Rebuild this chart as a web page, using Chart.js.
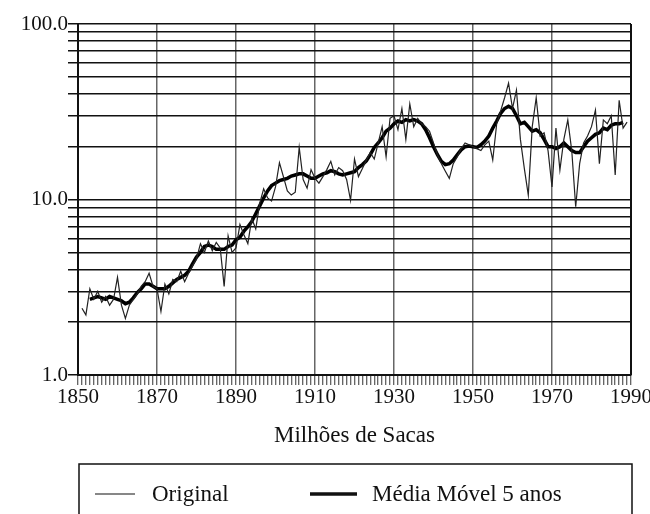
<!DOCTYPE html>
<html>
<head>
<meta charset="utf-8">
<script src="https://cdn.jsdelivr.net/npm/chart.js@4.4.1/dist/chart.umd.min.js"></script>
<style>
  html, body { margin: 0; padding: 0; background: #fff; }
  #wrap { width: 650px; height: 514px; position: relative; }
</style>
</head>
<body>
<div id="wrap"><canvas id="chart"></canvas></div>
<script>
// original series, one value per year starting 1851
const originalStart = 1851;
const original = [
  2.4, 2.2, 3.1, 2.7, 3.0, 2.6, 2.8, 2.5, 2.7,
  3.6, 2.5, 2.1, 2.5, 2.7, 2.9, 3.2, 3.4, 3.8, 3.2,
  3.1, 2.3, 3.3, 2.9, 3.5, 3.4, 3.9, 3.4, 3.8, 4.2,
  4.6, 5.6, 5.0, 5.8, 5.1, 5.7, 5.3, 3.2, 6.2, 5.0,
  5.3, 7.2, 6.3, 5.6, 7.8, 6.8, 9.5, 11.5, 10.2, 9.8,
  11.8, 16.2, 13.5, 11.2, 10.6, 11.0, 19.8, 13.0, 11.6, 14.8,
  13.2, 12.4, 13.5, 14.8, 16.5, 13.8, 15.2, 14.6, 13.0, 9.9,
  17.0, 13.5, 15.0, 16.8, 18.5, 17.0, 21.0, 26.0, 17.5, 29.0,
  30.0, 25.0, 33.0, 22.0, 35.0, 26.0, 29.0, 27.0, 26.0, 24.5,
  21.0, 18.0, 16.0, 14.5, 13.2, 16.0, 17.5, 19.5, 21.0, 20.5,
  20.0, 19.5, 19.0, 20.5, 21.5, 16.8, 27.0, 32.0, 38.0, 46.0,
  33.0, 42.0, 22.0, 15.0, 10.6, 26.0, 38.0, 23.0, 24.0, 19.0,
  11.8, 25.5, 14.7, 22.0, 28.4, 19.0, 9.1, 16.0, 21.0, 23.0,
  26.0, 32.3, 16.0, 28.4, 27.0, 30.0, 13.8, 36.7, 25.5, 27.6
];

// 5-year moving average, starting 1853
const movingStart = 1853;
const moving = [
  2.7, 2.75, 2.8, 2.75, 2.7, 2.8, 2.75,
  2.7, 2.65, 2.55, 2.6, 2.75, 2.95, 3.1, 3.3, 3.3, 3.2,
  3.1, 3.1, 3.1, 3.2, 3.35, 3.5, 3.6, 3.7, 3.9, 4.3,
  4.7, 5.0, 5.4, 5.5, 5.4, 5.2, 5.2, 5.2, 5.4, 5.5,
  5.9, 6.1, 6.6, 7.0, 7.5, 8.3, 9.2, 10.2, 11.2, 12.0,
  12.4, 12.8, 13.0, 13.2, 13.6, 13.8, 14.0, 14.0, 13.6, 13.2,
  13.2, 13.6, 14.0, 14.2, 14.6, 14.4, 14.0, 13.8, 14.0, 14.2,
  14.4, 15.2, 15.8, 16.6, 18.0, 19.8, 21.0, 22.5, 24.5, 25.5,
  27.0, 28.0, 27.5, 28.5, 28.0, 28.5, 28.0, 27.0, 25.0, 22.5,
  20.0, 18.0, 16.5, 15.8, 16.0, 16.8, 18.0, 19.2, 20.0, 20.2,
  20.0, 19.8, 20.5, 21.5, 23.0, 25.5, 28.0, 31.0, 33.0, 34.0,
  33.0, 30.0, 27.0, 27.5, 26.0, 24.5, 25.0, 24.0, 22.0, 20.0,
  20.0, 19.5, 20.0, 21.0, 20.0, 19.0, 18.5, 18.5, 20.0, 21.5,
  22.5, 23.5, 24.0, 25.5, 25.0, 26.5, 27.0, 27.0, 27.5
];

const seriesLabels = ['Original', 'Média Móvel 5 anos'];
const yTicks = [1, 2, 3, 4, 5, 6, 7, 8, 9, 10, 20, 30, 40, 50, 60, 70, 80, 90, 100];
const yLabeled = [1, 10, 100];
const xFirst = 1850;
const xLast = 1990;
const xLabelStep = 20;
const axisTitle = 'Milhões de Sacas';

const FONT = "'Liberation Serif', 'DejaVu Serif', serif";

function toPoints(start, arr) {
  return arr.map((v, i) => ({ x: start + i, y: v }));
}

const isMajorYear = v => (v - xFirst) % xLabelStep === 0;

// frame on the right + legend box under the chart
const framePlugin = {
  id: 'frame',
  afterDraw(chart) {
    const { ctx, chartArea } = chart;
    ctx.save();
    ctx.strokeStyle = '#111';
    ctx.lineWidth = 2;
    ctx.beginPath();
    ctx.moveTo(chartArea.right, chartArea.top);
    ctx.lineTo(chartArea.right, chartArea.bottom);
    ctx.stroke();

    // legend
    const boxL = 79, boxT = 464, boxR = 632;
    ctx.lineWidth = 1.5;
    ctx.beginPath();
    ctx.moveTo(boxL, 520);
    ctx.lineTo(boxL, boxT);
    ctx.lineTo(boxR, boxT);
    ctx.lineTo(boxR, 520);
    ctx.stroke();

    const items = [
      { x0: 95, x1: 135, tx: 152, ds: chart.data.datasets[0] },
      { x0: 310, x1: 357, tx: 372, ds: chart.data.datasets[1] }
    ];
    const ly = 494;
    ctx.font = '23px ' + FONT;
    ctx.fillStyle = '#111';
    ctx.textBaseline = 'middle';
    items.forEach(it => {
      ctx.strokeStyle = '#111';
      ctx.lineWidth = it.ds.borderWidth;
      ctx.beginPath();
      ctx.moveTo(it.x0, ly);
      ctx.lineTo(it.x1, ly);
      ctx.stroke();
      ctx.fillText(it.ds.label, it.tx, ly + 1);
    });
    ctx.restore();
  }
};

new Chart(document.getElementById('chart'), {
  type: 'line',
  data: {
    datasets: [
      {
        label: seriesLabels[0],
        data: toPoints(originalStart, original),
        borderColor: '#222',
        borderWidth: 1.2,
        pointRadius: 0,
        tension: 0
      },
      {
        label: seriesLabels[1],
        data: toPoints(movingStart, moving),
        borderColor: '#000',
        borderWidth: 3.5,
        pointRadius: 0,
        tension: 0
      }
    ]
  },
  plugins: [framePlugin],
  options: {
    responsive: true,
    maintainAspectRatio: false,
    animation: false,
    layout: { padding: { left: 0, right: 19, top: 24, bottom: 64 } },
    plugins: { legend: { display: false }, tooltip: { enabled: false } },
    scales: {
      x: {
        type: 'linear',
        min: xFirst,
        max: xLast,
        afterBuildTicks(scale) {
          const t = [];
          for (let y = xFirst; y <= xLast; y++) t.push({ value: y });
          scale.ticks = t;
        },
        afterFit(scale) {
          scale.height = 75;
          scale.paddingLeft = 0;
          scale.paddingRight = 0;
        },
        ticks: {
          autoSkip: false,
          maxRotation: 0,
          padding: 0,
          color: '#111',
          font: { family: FONT, size: 21 },
          callback: v => (isMajorYear(v) ? String(v) : '')
        },
        grid: {
          color: c => (c.tick && isMajorYear(c.tick.value) ? '#666' : 'rgba(0,0,0,0)'),
          lineWidth: 1.5,
          tickColor: '#333',
          tickWidth: 1,
          tickLength: 10
        },
        border: { display: true, color: '#111', width: 2 },
        title: {
          display: true,
          text: axisTitle,
          color: '#111',
          font: { family: FONT, size: 23 },
          padding: { top: 0, bottom: 0 }
        }
      },
      y: {
        type: 'logarithmic',
        min: 1,
        max: 100,
        afterBuildTicks(scale) {
          scale.ticks = yTicks.map(v => ({ value: v }));
        },
        afterFit(scale) {
          scale.width = 78;
          scale.paddingTop = 0;
          scale.paddingBottom = 0;
        },
        ticks: {
          autoSkip: false,
          padding: 0,
          color: '#111',
          font: { family: FONT, size: 21 },
          callback: v => (yLabeled.includes(v) ? v.toFixed(1) : '')
        },
        grid: {
          color: '#111',
          lineWidth: 1.5,
          tickLength: 10
        },
        border: { display: true, color: '#111', width: 2 }
      }
    }
  }
});
</script>
</body>
</html>
